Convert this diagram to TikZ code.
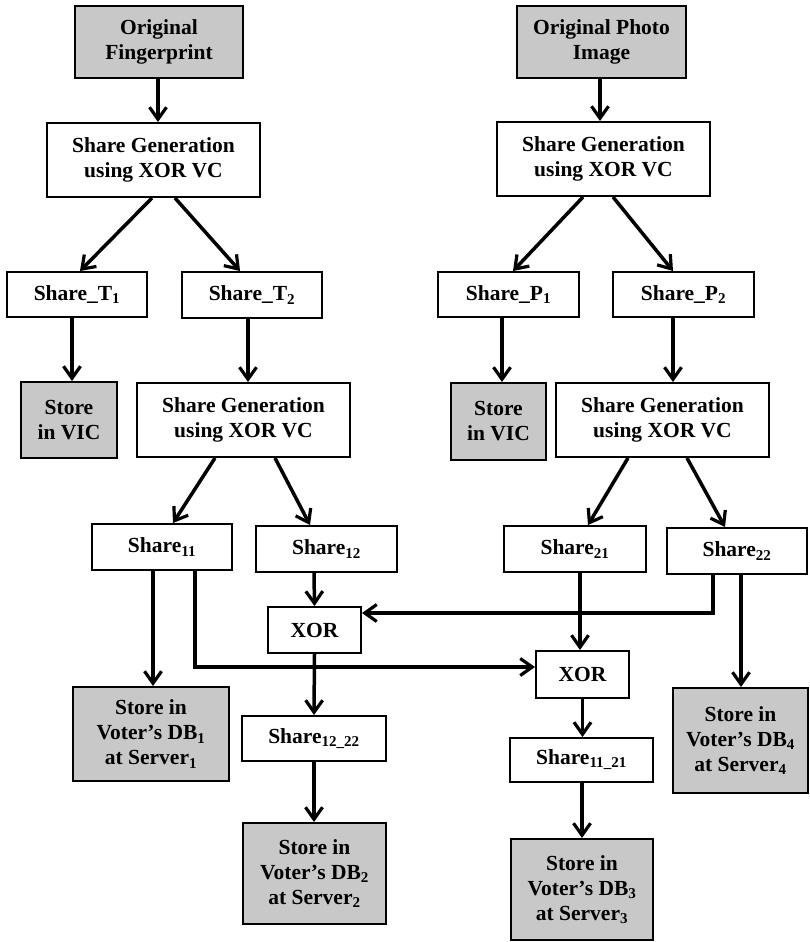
\documentclass[tikz,border=0pt]{standalone}
\usepackage{fontspec}
\setmainfont{Liberation Serif}
\usetikzlibrary{arrows.meta}
\definecolor{boxgray}{RGB}{200,200,200}
\begin{document}
\begin{tikzpicture}[x=1pt,y=-1pt,
  box/.style={draw=black, line width=2pt, fill=white, inner sep=0pt, align=center,
    font=\fontsize{21.5}{25}\selectfont\bfseries},
  grey/.style={box, fill=boxgray},
  arr/.style={line width=3.5pt, -{Straight Barb[length=12pt,width=17pt,line width=3.2pt]}},
  sz/.style n args={2}{minimum width=#1pt, minimum height=#2pt}]
\useasboundingbox (0,0) rectangle (810,942);

% fingerprint branch
\node[grey,sz={168}{72}] (of) at (159,42) {Original\\Fingerprint};
\node[box,sz={213}{74}] (sg1) at (153.5,160) {Share Generation\\using XOR VC};
\node[box,sz={140}{45}] (t1) at (77,294.5) {Share\_T\textsubscript{1}};
\node[box,sz={140}{46}] (t2) at (252,295) {Share\_T\textsubscript{2}};
\node[grey,sz={96}{76}] (vic1) at (69,420) {Store\\in VIC};
\node[box,sz={213}{74}] (sg2) at (243.5,420) {Share Generation\\using XOR VC};
\node[box,sz={140}{46}] (s11) at (162,547) {Share\textsubscript{11}};
\node[box,sz={141}{46}] (s12) at (326.5,549) {Share\textsubscript{12}};
\node[box,sz={93}{46}] (xor1) at (314.5,630) {XOR};
\node[box,sz={144}{45}] (s1222) at (314,738.5) {Share\textsubscript{12\_22}};
\node[grey,sz={156}{94}] (db1) at (151,734) {Store in\\Voter’s DB\textsubscript{1}\\at Server\textsubscript{1}};
\node[grey,sz={143}{101}] (db2) at (314.5,873.5) {Store in\\Voter’s DB\textsubscript{2}\\at Server\textsubscript{2}};

% photo branch
\node[grey,sz={169}{72}] (op) at (601.5,42) {Original Photo\\Image};
\node[box,sz={213}{74}] (sg3) at (603.5,159) {Share Generation\\using XOR VC};
\node[box,sz={141}{45}] (p1) at (508.5,294.5) {Share\_P\textsubscript{1}};
\node[box,sz={141}{45}] (p2) at (683.5,294.5) {Share\_P\textsubscript{2}};
\node[grey,sz={95}{77}] (vic2) at (498.5,421.5) {Store\\in VIC};
\node[box,sz={213}{74}] (sg4) at (662.5,420) {Share Generation\\using XOR VC};
\node[box,sz={142}{46}] (s21) at (575,549) {Share\textsubscript{21}};
\node[box,sz={140}{46}] (s22) at (737,551) {Share\textsubscript{22}};
\node[box,sz={93}{47}] (xor2) at (582.5,674.5) {XOR};
\node[box,sz={143}{44}] (s1121) at (581.5,760) {Share\textsubscript{11\_21}};
\node[grey,sz={142}{101}] (db3) at (582,889.5) {Store in\\Voter’s DB\textsubscript{3}\\at Server\textsubscript{3}};
\node[grey,sz={135}{105}] (db4) at (740.5,740.5) {Store in\\Voter’s DB\textsubscript{4}\\at Server\textsubscript{4}};

% connectors, fingerprint side
\draw[arr] ([xshift=-1pt]of.south) -- ([xshift=4.5pt]sg1.north);
\draw[arr] ([xshift=-1.5pt]sg1.south) -- ([xshift=3pt]t1.north);
\draw[arr] ([xshift=21.5pt]sg1.south) -- ([xshift=-12pt]t2.north);
\draw[arr] ([xshift=-5pt]t1.south) -- ([xshift=3pt]vic1.north);
\draw[arr] ([xshift=-4pt]t2.south) -- ([xshift=4.5pt]sg2.north);
\draw[arr] ([xshift=-28.5pt]sg2.south) -- ([xshift=11pt]s11.north);
\draw[arr] ([xshift=31.5pt]sg2.south) -- ([xshift=-16.5pt]s12.north);
\draw[arr] ([xshift=-9pt]s11.south) -- ([xshift=2pt]db1.north);
\draw[arr] ([xshift=-12.5pt]s12.south) -- (xor1.north);
\draw[arr] (xor1.south) -- (s1222.north);
\draw[arr] (s1222.south) -- ([xshift=-0.5pt]db2.north);

% connectors, photo side
\draw[arr] ([xshift=-1.5pt]op.south) -- ([xshift=-3.5pt]sg3.north);
\draw[arr] ([xshift=-20.5pt]sg3.south) -- ([xshift=4.5pt]p1.north);
\draw[arr] ([xshift=9.5pt]sg3.south) -- ([xshift=-10.5pt]p2.north);
\draw[arr] ([xshift=-6.5pt]p1.south) -- ([xshift=3.5pt]vic2.north);
\draw[arr] ([xshift=-10.5pt]p2.south) -- ([xshift=10.5pt]sg4.north);
\draw[arr] ([xshift=-34.5pt]sg4.south) -- ([xshift=13pt]s21.north);
\draw[arr] ([xshift=24.5pt]sg4.south) -- ([xshift=-12pt]s22.north);
\draw[arr] ([xshift=4pt]s22.south) -- ([xshift=0.5pt]db4.north);
\draw[arr] ([xshift=5pt]s21.south) -- ([xshift=-2.5pt]xor2.north);
\draw[arr] (xor2.south) -- ([xshift=1pt]s1121.north);
\draw[arr] ([xshift=0.5pt]s1121.south) -- (db3.north);

% crossing XOR inputs
\draw[arr] ([xshift=-24pt]s22.south) |- ([yshift=17pt]xor1.east);
\draw[arr] ([xshift=33pt]s11.south) |- ([yshift=7.5pt]xor2.west);
\end{tikzpicture}
\end{document}
